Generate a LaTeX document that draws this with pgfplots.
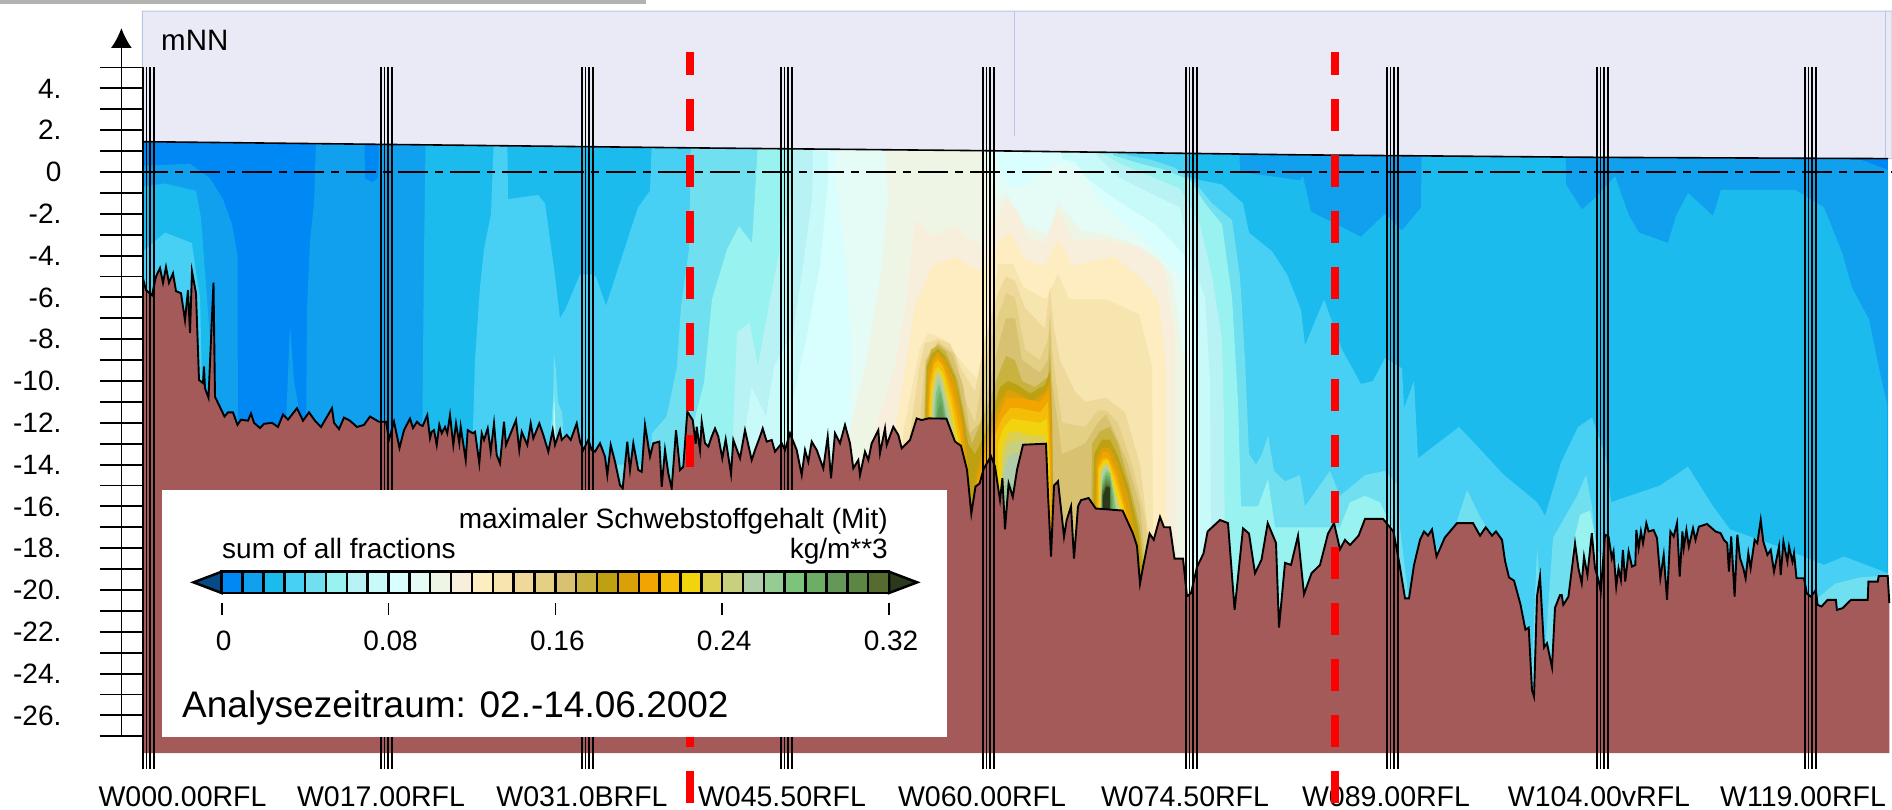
\documentclass[border=0pt]{standalone}
\usepackage{fontspec}
\setmainfont{Liberation Sans}
\usepackage{pgfplots}
\pgfplotsset{compat=1.18}
\usetikzlibrary{arrows.meta}
\definecolor{c0}{HTML}{0088F5}\definecolor{c1}{HTML}{10A0EE}\definecolor{c2}{HTML}{1CBBEE}\definecolor{c3}{HTML}{48CFF4}
\definecolor{c4}{HTML}{70DFEF}\definecolor{c5}{HTML}{98F3F0}\definecolor{c6}{HTML}{B8F2F4}\definecolor{c7}{HTML}{C8FAFA}
\definecolor{c8}{HTML}{D8FFFD}\definecolor{c9}{HTML}{E4FBF6}\definecolor{c10}{HTML}{EFF5E5}\definecolor{c11}{HTML}{F8EEDC}
\definecolor{c12}{HTML}{FDEDC0}\definecolor{c13}{HTML}{F7E5B0}\definecolor{c14}{HTML}{EFD99A}\definecolor{c15}{HTML}{E3D085}
\definecolor{c16}{HTML}{D8C272}\definecolor{c17}{HTML}{C9B340}\definecolor{c18}{HTML}{BFA010}\definecolor{c19}{HTML}{DAA008}
\definecolor{c20}{HTML}{F2A500}\definecolor{c21}{HTML}{F4BE08}\definecolor{c22}{HTML}{F2D40E}\definecolor{c23}{HTML}{DDD050}
\definecolor{c24}{HTML}{C8D080}\definecolor{c25}{HTML}{B0CCA8}\definecolor{c26}{HTML}{94CC94}\definecolor{c27}{HTML}{7CC47C}
\definecolor{c28}{HTML}{6CAF64}\definecolor{c29}{HTML}{649858}\definecolor{c30}{HTML}{5C8644}\definecolor{c31}{HTML}{566B30}
\definecolor{cL}{HTML}{064B85}\definecolor{cR}{HTML}{2C3A1C}
\definecolor{bed}{HTML}{A55A5A}\definecolor{panel}{HTML}{EAEAF6}\definecolor{edge}{HTML}{B8C6E2}
\newcommand\pp[2]{(#1pt,{809pt-#2pt})}
\newcommand\lev[2]{\addplot[fill=c#1,draw=none] coordinates {#2};}
\newcommand\swatch[3]{\addplot[fill=c#1,draw=black,line width=2.5pt] coordinates {(#2,0)(#3,0)(#3,1)(#2,1)} -- cycle;}
\newcommand\drawbed[1]{\addplot[fill=bed,draw=none] coordinates {(143,-27.8)#1(1889.3,-27.8)};
  \addplot[black,line width=1.9pt] coordinates {#1};}
\begin{document}
\begin{tikzpicture}
\path[use as bounding box] (0pt,0pt) rectangle (1892pt,809pt);
\fill[black!30] \pp{0}{0} rectangle \pp{646}{4};
\begin{axis}[
  at={(121.4pt,72.7pt)},anchor=south west,scale only axis,
  width=1770.6pt,height=708.3pt,
  xmin=121.4,xmax=1892,ymin=-27,ymax=6.89,clip=false,
  axis y line=left,axis x line=bottom,
  every outer x axis line/.append style={-,draw=none},
  every outer y axis line/.append style={-{Latex[length=20pt,width=21pt]},line width=1.7pt},
  tick align=center,major tick length=43pt,minor tick length=43pt,
  ytick={-26,-24,...,4},minor ytick={-27,-25,...,5},
  yticklabels={-26.,-24.,-22.,-20.,-18.,-16.,-14.,-12.,-10.,-8.,-6.,-4.,-2.,0,2.,4.},
  y tick style={line width=1.9pt,black},
  minor y tick style={line width=1.9pt,black},
  yticklabel style={font=\fontsize{28}{28}\selectfont,anchor=east,xshift=-35pt},
  xtick={182.5,381,582,782,982,1185,1386,1599,1803},
  xticklabels={W000.00RFL,W017.00RFL,W031.0BRFL,W045.50RFL,W060.00RFL,W074.50RFL,W089.00RFL,W104.00vRFL,W119.00RFL},
  x tick style={draw=none},
  xticklabel style={font=\fontsize{28.5}{28.5}\selectfont,yshift=-25pt},
]
% base water colour
\lev{0}{(143,-27)(143,3)(1888,3)(1888,-27)}
% concentration classes, each: upper limit of the class against station
\lev{1}{(143,-27)(143,.3)(190,.4)(210,-.3)(223,-1.3)(232,-2.5)(237.5,-4)(238,-14)(283,-14)(286,-12)(290,-7.3)(294,-10)(303,-12.5)(306,-13)(307,-6.5)(310,-3.3)(314,-1.5)(317,3)(364,3)(365,-.3)(372,-.5)(378,-.3)(380,3)(1858,3)(1860,.6)(1888,.1)(1888,-27)}
\lev{2}{(143,-27)(143,-.7)(165,-.55)(196,-.9)(201,-2.2)(206,-5.4)(210,-8)(212,-14)(422,-14)(424,-4)(426,3)(1238,3)(1240,0)(1300,-.4)(1303,-.2)(1311,-1.9)(1361,-3.1)(1385,-2)(1402,-2.8)(1421,-1.7)(1422,3)(1565,3)(1566,-.6)(1582,-1.8)(1596,-1.2)(1615,-.2)(1629,-2.1)(1639,-2.9)(1668,-3.4)(1676,-2.1)(1688,-1)(1713,-2.1)(1721,-.85)(1795,-.85)(1824,-1.7)(1842,-3.85)(1852,-5.55)(1869,-7.05)(1879,-9.4)(1887,-11.1)(1888,-27)}
\lev{3}{(143,-27)(143,-3.8)(165,-2.9)(192,-3.4)(196,-4.8)(200,-6)(204,-14)(472,-14)(475,-9)(480,-5.5)(484,-3.7)(491,-2)(495,3)(507,3)(508,-1.3)(538,-1.1)(545,-1.5)(554,-4.6)(560,-7)(565,-6.6)(580,-4.9)(592,-4.9)(596,-5)(606,-6.4)(625,-3.6)(638,-1.7)(650,-.9)(653,3)(1185,3)(1186,-.2)(1201,-.4)(1222,-.6)(1243,-1.5)(1249,-2.9)(1272,-3.8)(1287,-4.9)(1301,-6.6)(1305,-8.3)(1324,-6.1)(1342,-8.5)(1361,-10.15)(1373,-10)(1385,-8.9)(1402,-9.4)(1404,-11.3)(1414,-10)(1418,-13.7)(1459,-12.2)(1471,-12.8)(1504,-14.5)(1537,-15.8)(1545,-16.45)(1561,-13.9)(1578,-12.2)(1592,-11.75)(1606,-13.7)(1611,-15.8)(1660,-15)(1688,-14.1)(1713,-16)(1730,-17.1)(1783,-18)(1824,-18.8)(1844,-18.4)(1888,-19.2)(1888,-27)}
\lev{4}{(540,-27)(548,-14)(553,-11)(554,-8.7)(556,-9.5)(558,-11)(562,-11.5)(566,-14)(650,-14)(652,-12.5)(666.6,-11.7)(677,-9.3)(681,-6.4)(689,-3.7)(691.5,3)(1125,3)(1127,.8)(1150,.6)(1175,.2)(1195,-.5)(1212,-1.5)(1232,-2.3)(1240,-5)(1245,-9)(1249,-13.5)(1256,-14)(1262,-13.5)(1268,-12.6)(1274,-14.3)(1285,-14.8)(1300,-14.5)(1305,-16)(1330,-14.3)(1340,-15.5)(1365,-14.5)(1385,-14.3)(1398,-15)(1400,-17)(1410,-21)(1420,-19)(1455,-17)(1467,-15.2)(1480,-16.5)(1500,-18)(1515,-21)(1530,-26)(1537,-18)(1545,-23)(1553,-17.5)(1565,-16.5)(1577,-15.5)(1586,-14.5)(1592,-16)(1596,-18)(1604,-18.5)(1800,-21)(1820,-20.3)(1835,-19.7)(1860,-19.4)(1888,-19.3)(1888,-27)}
\lev{5}{(550,-27)(551,-14)(554,-10.5)(557,-14)(558,-27)}
\lev{5}{(689,-27)(691,-12.5)(704,-10.1)(712,-6.1)(727,-3.7)(739,-2.6)(752,-3.4)(760,3)(1112,3)(1113,.8)(1140,.4)(1165,.1)(1190,-.4)(1205,-1.5)(1222,-2.5)(1232,-6)(1238,-11)(1241,-16)(1258,-16)(1268,-14.7)(1275,-17)(1340,-17)(1350,-15.8)(1365,-15.5)(1380,-15.8)(1392,-17)(1400,-27)(1565,-27)(1572,-18)(1580,-16.4)(1590,-16.2)(1597,-18)(1604,-27)}
\lev{6}{(732,-27)(733,-12.5)(737,-7.7)(749.5,-7.2)(758,-9.3)(770,-6.1)(783,-2.9)(793,-.5)(793,3)(1100,3)(1102,.9)(1120,.4)(1150,-.2)(1180,-.8)(1200,-2.5)(1212,-5)(1222,-8)(1224,-12)(1226,-27)}
\lev{7}{(552,-27)(553,-14)(554.5,-11)(556,-14)(557,-27)}
\lev{7}{(744,-27)(745,-12.5)(751.6,-10.3)(766,-11.7)(774,-9.3)(793,-7.7)(803,-4.5)(812,-1.3)(814,3)(1090,3)(1092,1)(1105,.4)(1120,-.3)(1150,-1)(1180,-1.7)(1190,-4)(1205,-6)(1210,-10)(1212,-27)}
\lev{8}{(790,-27)(791,-12.5)(793,-10.9)(807.5,-7.7)(820,-4.5)(828,-.5)(828,3)(1055,3)(1062,.6)(1075,.5)(1085,-.2)(1100,-.8)(1125,-1.6)(1155,-2.5)(1185,-4)(1195,-6)(1199,-8)(1201,-27)}
\lev{9}{(849,-27)(850,-12.5)(851,-8)(845,-4)(836,-.5)(834,3)(985,3)(1000,0)(1012,-.8)(1030,-.5)(1055,.5)(1075,.3)(1088,-.5)(1100,-1.5)(1125,-2.5)(1150,-3.5)(1180,-5)(1193,-7)(1196,-27)}
\lev{10}{(848,-27)(849,-12.5)(865.6,-9.3)(882,-4.5)(888,-1.3)(884,3)(984,3)(984.5,.7)(998,-1.34)(1006.5,-1)(1023,-2.5)(1048,-3)(1058,-1.5)(1081,-2.8)(1106,-3)(1127,-3.3)(1156,-4.05)(1172,-5)(1185,-9.3)(1187,-27)}
\lev{11}{(874,-27)(874,-12.5)(895,-9.3)(907,-6.1)(915,-2.3)(923.6,-2.6)(932,-3.1)(957,-2.6)(969,-3.25)(982,-3.4)(998,-2.1)(1006.5,-1.35)(1019,-2)(1027,-3.1)(1044,-3.4)(1058,-1.85)(1073,-3.25)(1106,-3.25)(1139,-3.6)(1164,-4.5)(1174.5,-7.7)(1176.5,-27)}
\lev{12}{(895,-27)(895,-12.5)(915,-6.4)(932,-4.5)(955,-4.05)(969,-4.5)(982,-4.7)(1000,-3.25)(1010.7,-2.9)(1025,-4.2)(1044,-4.5)(1058,-3.25)(1073,-4.5)(1114,-4.05)(1139,-5)(1158,-6.1)(1166,-9.3)(1166,-27)}
\lev{13}{(903,-27)(903,-12.5)(919.5,-8.5)(928,-7.7)(944,-8)(965,-9.3)(982,-10.1)(998,-4.4)(1013,-4.4)(1023,-5.5)(1046,-6.1)(1058,-4.85)(1069,-6.1)(1106,-6.1)(1139,-6.8)(1152,-9.3)(1154,-27)}
\lev{14}{(910,-27)(910,-12.5)(919.5,-9.3)(925,-8.2)(938,-8)(950,-8.2)(962,-9.5)(975,-10.5)(985,-8)(998,-5.8)(1006,-5)(1015,-5.2)(1025,-6.5)(1045,-7.5)(1050,-5.5)(1054,-7.5)(1060,-9)(1075,-10.5)(1085,-11)(1106,-10.8)(1125,-11.5)(1140,-14)(1150,-18)(1151,-27)}
\lev{15}{(919,-27)(919,-12.5)(925,-9)(938,-8.1)(955,-8.7)(966,-11)(975,-12)(985,-9)(998,-6.9)(1006,-5.8)(1015,-6)(1025,-8.5)(1040,-9)(1048,-8)(1050,-6.6)(1053,-9)(1062,-12)(1085,-12.2)(1098,-11.4)(1106,-11.4)(1118,-12)(1132,-14)(1145,-16.5)(1152,-20)(1152,-27)}
\lev{16}{(923,-27)(923,-12.5)(926,-9)(938,-8.2)(952,-8.7)(963,-10.2)(970,-12.5)(980,-12)(990,-10)(1000,-8)(1006,-7)(1015,-7)(1022,-9)(1040,-9.6)(1048,-9)(1050,-7)(1052,-10)(1062,-13.5)(1085,-13)(1098,-12)(1106,-11.6)(1115,-12.5)(1128,-14)(1140,-16)(1148,-20)(1148,-27)}
\lev{17}{(924,-27)(924,-12.5)(926,-9.3)(931,-8.5)(938,-8.3)(946,-8.6)(958,-10)(966,-12)(972,-13)(985,-11.5)(1000,-9.5)(1006,-8.8)(1015,-9)(1022,-10)(1035,-10.3)(1048,-9.8)(1050,-8.5)(1052,-11)(1056,-27)(1088,-27)(1092,-13)(1100,-12.4)(1110,-12.2)(1118,-13)(1130,-15)(1140,-17)(1146,-20)(1146,-27)}
\lev{18}{(925,-27)(925,-12.5)(927,-9.3)(932,-8.7)(938,-8.45)(945,-8.8)(955,-9.8)(963,-11.5)(968,-13)(975,-13.5)(985,-12.5)(1000,-10.3)(1008,-10)(1018,-10.2)(1030,-10.6)(1045,-10.2)(1050,-9.5)(1052,-12)(1055,-27)(1090,-27)(1094,-13.5)(1102,-12.8)(1110,-12.8)(1118,-13.6)(1128,-15)(1138,-17)(1145,-20)(1145,-27)}
\lev{19}{(926,-27)(926,-12.5)(928,-9.5)(933,-8.85)(938,-8.6)(945,-9)(955,-10)(962,-11.8)(967,-13.5)(972,-16.5)(976,-14.5)(985,-13)(1000,-11)(1008,-10.4)(1018,-10.6)(1032,-11)(1045,-10.5)(1050,-10)(1052,-13)(1054,-27)(1092,-27)(1096,-13.8)(1102,-13.2)(1110,-13.2)(1118,-14)(1128,-15.5)(1136,-17.5)(1142,-20)(1142,-27)}
\lev{20}{(927,-27)(927,-12.5)(929,-10)(933.5,-9)(938,-8.8)(944,-9.2)(953,-10.4)(961,-12)(966,-14)(971,-16.5)(976,-15)(985,-13.5)(1000,-11.5)(1006,-10.8)(1020,-10.8)(1040,-11)(1049,-10.4)(1051,-14)(1053,-27)(1093,-27)(1097,-14)(1103,-13.4)(1108,-13.4)(1117,-14.4)(1126,-16)(1134,-17.5)(1140,-20)(1140,-27)}
\lev{21}{(928,-27)(928,-12.5)(930,-10.2)(934,-9.2)(938,-9)(943,-9.3)(952,-10.7)(960,-12.5)(965,-14.5)(968,-16)(970,-27)(993,-27)(995,-12.6)(1002,-11.8)(1010,-11.3)(1020,-11.3)(1040,-11.5)(1048,-11)(1050,-14)(1052,-27)(1094,-27)(1098,-14.2)(1103,-13.7)(1108,-13.7)(1116,-14.6)(1124,-16)(1132,-17.5)(1138,-20)(1138,-27)}
\lev{22}{(929,-27)(929,-12.5)(931,-10.4)(935,-9.5)(938,-9.3)(943,-9.6)(951,-11)(959,-13)(964,-15)(967,-27)(996,-27)(998,-13)(1004,-12.2)(1012,-11.8)(1025,-11.9)(1040,-12)(1047,-11.8)(1049,-14)(1050,-27)(1095,-27)(1099,-14.2)(1104,-13.8)(1108,-13.8)(1115,-14.8)(1123,-16)(1130,-17.5)(1136,-20)(1136,-27)}
\lev{23}{(930,-27)(930,-12.5)(932,-10.5)(935.5,-9.6)(938,-9.45)(943,-9.8)(950,-11.2)(957,-13)(962,-15)(965,-27)(1000,-27)(1002,-13.2)(1008,-12.5)(1016,-12.4)(1030,-12.6)(1045,-12.6)(1048,-27)(1096,-27)(1100,-14.3)(1104,-13.95)(1108,-13.95)(1114,-15)(1121,-16.2)(1128,-17.5)(1134,-20)(1134,-27)}
\lev{24}{(931,-27)(931,-12.5)(933,-10.6)(936,-9.75)(938,-9.6)(942,-10)(949,-11.4)(956,-13)(960,-15)(963,-27)(1000,-27)(1003,-13.8)(1009,-13)(1020,-12.8)(1030,-13)(1045,-13)(1047,-27)(1097,-27)(1101,-14.4)(1105,-14.05)(1108,-14.05)(1113,-15.1)(1120,-16.3)(1126,-17.5)(1132,-20)(1132,-27)}
\lev{25}{(932,-27)(932,-12.5)(934,-10.7)(937,-9.9)(939,-9.8)(942,-10.2)(948,-11.6)(955,-13.2)(958,-15)(960,-27)(1000,-27)(1003,-14.5)(1009,-13.6)(1018,-13.4)(1022,-27)(1098,-27)(1102,-14.5)(1105,-14.15)(1108,-14.15)(1112,-15.2)(1118,-16.3)(1124,-17.5)(1130,-20)(1130,-27)}
\lev{26}{(933,-27)(933,-12.5)(935,-10.9)(938,-10)(941,-10.3)(947,-11.7)(953,-13.2)(956,-15)(958,-27)(1003,-27)(1005,-15)(1009,-14.8)(1013,-15)(1015,-27)(1098,-27)(1103,-14.6)(1106,-14.25)(1109,-14.3)(1114,-15.5)(1120,-17.5)(1127,-20)(1127,-27)}
\lev{27}{(934,-27)(934,-12.5)(936,-10.6)(939,-10.2)(942,-10.6)(946,-11.8)(951,-13.5)(954,-27)(1099,-27)(1102,-14.8)(1106,-14.35)(1110,-14.4)(1114,-15.5)(1118,-17)(1122,-20)(1122,-27)}
\lev{28}{(935,-27)(935,-12.5)(937,-11)(940,-10.5)(943,-11)(946,-12)(950,-14)(952,-27)(1100,-27)(1102,-15)(1106,-14.5)(1110,-14.6)(1113,-15.6)(1116,-20)(1116,-27)}
\lev{29}{(936,-27)(936,-12.5)(938,-11.4)(941,-11)(944,-11.8)(947,-12.6)(950,-27)(1100,-27)(1102,-15.2)(1106,-14.65)(1110,-14.75)(1112,-15.8)(1114,-27)}
\lev{30}{(938,-27)(938,-12.5)(940,-11.7)(943,-12.5)(946,-27)(1101,-27)(1102,-15.3)(1106,-14.8)(1110,-14.9)(1112,-27)}
\lev{31}{(1101,-27)(1102,-15.4)(1106,-14.95)(1110,-15)(1112,-27)}
\addplot[fill=cR,draw=none] coordinates {(1102,-27)(1103,-15.5)(1106,-15.05)(1110,-15.1)(1111,-27)};
% sky panel above the water level
\addplot[fill=panel,draw=edge,line width=1pt] coordinates {(142.4,1.45)(142.4,7.7)(1892,7.7)(1892,.64)(1888,.64)(1600,.7)(1300,.82)(983,1.02)(700,1.15)(142.4,1.45)};
\addplot[draw=edge,line width=1pt] coordinates {(1014,7.7)(1014,1.72)};
\addplot[draw=edge,line width=1pt] coordinates {(1885,7.7)(1885,.64)};
% water level
\addplot[black,line width=1.6pt] coordinates {(143,1.45)(700,1.15)(983,1.02)(1300,.82)(1600,.7)(1888,.64)};
% river bed
\drawbed{(143,-5.1)(146,-5.65)(152,-5.9)(156,-5)(160,-4.6)(163,-5.3)(166,-4.55)(169,-5.3)(173,-4.85)(176,-5.7)(181,-5.8)(185,-7.1)(188,-5.65)(190,-7.7)(192,-4.75)(196,-5.8)(199,-9.95)(203,-10.1)(204,-9.3)(205,-10.35)(208.5,-10.8)(211,-8)(213.5,-5.3)(215,-10.75)(219,-11.15)(224.5,-11.7)(228,-11.5)(233,-11.5)(237.5,-12.1)(241,-11.85)(248,-11.9)(251,-11.55)(254,-12)(260,-12.25)(264,-12.05)(272,-12)(278,-12.2)(283,-11.6)(288,-11.85)(297,-11.3)(303,-11.9)(309,-11.5)(315,-11.9)(321,-12.2)(332,-11.3)(334,-12)(339,-12.3)(344,-11.75)(350,-11.9)(357,-12.2)(364,-12.1)(370,-11.7)(379,-11.95)(386,-11.95)(389,-12.8)(394,-11.95)(399.5,-13.2)(404,-12.35)(410,-11.8)(413,-12.25)(417,-11.95)(420,-12.1)(422.7,-12.15)(427.3,-11.63)(430,-12.74)(431.7,-12.43)(434,-12.35)(436.7,-13.06)(439.3,-12.1)(441.7,-12.5)(445,-12.2)(447.3,-12.5)(450,-11.63)(453.3,-13.06)(456,-12.03)(459.3,-12.98)(460.7,-12.19)(465.7,-13.78)(467.7,-12.35)(472.7,-12.5)(475,-12.43)(479.3,-13.94)(481.7,-12.5)(484,-12.82)(487.7,-12.27)(490.7,-13.38)(494,-12.03)(496.7,-13.54)(500,-13.94)(504,-11.95)(506,-13.06)(510,-12.58)(516,-11.87)(519.3,-13.3)(521.7,-12.43)(527.3,-13.06)(530.7,-12.03)(533.3,-12.74)(539.3,-12.03)(543.3,-12.58)(548.3,-13.38)(552.7,-12.35)(555,-13.06)(560,-12.35)(561.7,-12.82)(566.7,-12.58)(570.7,-12.82)(576.7,-12.03)(580,-12.9)(583.3,-13.3)(588.3,-12.82)(591.7,-13.3)(595,-13.38)(600,-12.98)(605,-13.62)(607.3,-14.5)(610.7,-13.06)(615,-13.86)(620,-14.98)(622.7,-15.14)(627.3,-12.9)(630,-14.26)(633.3,-12.98)(638.3,-14.26)(641.7,-14.34)(645,-12.1)(650,-13.62)(653.3,-12.98)(659.3,-12.9)(661.7,-15.06)(665,-13.3)(668.3,-14.42)(671.7,-15.14)(676,-12.35)(680,-14.26)(683.3,-14.1)(687.3,-11.47)(692.7,-11.87)(695.7,-13)(696.7,-12.19)(700,-13.3)(701.7,-11.95)(705,-12.98)(708.3,-13.14)(711.7,-12.66)(715,-12.27)(718.3,-12.66)(722.3,-13.7)(725.7,-12.79)(731,-14.45)(733.3,-12.82)(740,-13.7)(745,-12.35)(751.7,-13.78)(755,-13.3)(760,-12.66)(762.7,-12.27)(766.7,-12.9)(771.7,-12.82)(775,-13.38)(781.7,-12.98)(785,-13.3)(790,-12.5)(796.7,-13.3)(801.7,-14.5)(805,-13.3)(808.3,-13.86)(811.7,-12.9)(816.7,-13.3)(823.3,-14.18)(827.7,-12.66)(831,-14.66)(835,-12.5)(840,-12.98)(845,-12.1)(850,-12.98)(853.3,-14.18)(858.3,-13.78)(860,-14.5)(865,-13.38)(868.3,-13.78)(871.7,-12.98)(878.3,-12.35)(880,-13.46)(885,-12.27)(886.7,-13.06)(893.3,-12.19)(898.3,-12.58)(901.7,-13.22)(910,-12.82)(916.7,-11.79)(921.7,-11.87)(928.3,-11.79)(946.4,-11.8)(955,-12.9)(961,-13.1)(967,-14.25)(971.3,-16.35)(975.5,-15.05)(979.6,-14.9)(983.7,-14.2)(991,-13.6)(995,-14.1)(1000,-15.7)(1002.4,-14.65)(1005,-17.1)(1008.6,-14.9)(1012.8,-15.55)(1017,-14.25)(1023,-13.05)(1046,-13)(1048,-15.4)(1051,-18.4)(1054,-15)(1058,-14.8)(1064,-17.45)(1066.7,-16.65)(1071,-16)(1074,-18.5)(1078,-16)(1081,-15.7)(1088.6,-15.6)(1095.7,-16.1)(1122.6,-16.2)(1133,-17.3)(1137,-17.9)(1140,-19.7)(1143,-18.9)(1149.6,-17.3)(1153.7,-17.6)(1160,-16.5)(1164,-17)(1170,-17)(1174.5,-18.5)(1183,-18.5)(1187,-20.3)(1191,-20.15)(1197,-18.9)(1203.5,-18.25)(1207.6,-17.2)(1220,-16.65)(1228,-16.8)(1234.6,-20.95)(1243,-17.05)(1249,-17.3)(1255,-19.2)(1261.5,-18.55)(1267.7,-16.8)(1276,-17.75)(1279,-21.8)(1285,-18.7)(1291,-18.8)(1298,-17.4)(1304,-20.2)(1311.5,-19.2)(1320,-18.8)(1328,-17.3)(1334,-16.8)(1340,-18.05)(1345,-17.6)(1350,-17.85)(1358.6,-17.4)(1365,-16.6)(1383,-16.6)(1393.4,-17.2)(1399.6,-18.8)(1405,-20.4)(1409,-20.4)(1414,-18.8)(1420,-17.6)(1424,-17.2)(1428,-17.4)(1432,-17.1)(1436.5,-18.4)(1444.7,-17.5)(1457,-16.8)(1473,-16.8)(1480,-17.4)(1485.7,-17)(1492,-17.4)(1496,-17.2)(1502,-17.6)(1505,-18.6)(1509,-19.4)(1514,-19.55)(1520.5,-20.7)(1525.4,-21.9)(1528.7,-21.8)(1532,-24.8)(1534,-25.1)(1537,-20.3)(1540,-19.35)(1544,-22.75)(1547,-22.55)(1552,-23.7)(1555,-20.85)(1560,-20.24)(1561.7,-20.24)(1563.3,-20.71)(1568.4,-20.32)(1570.7,-19.44)(1575,-17.76)(1578.4,-18.96)(1581.7,-19.68)(1584,-18.4)(1587.4,-19.28)(1591.8,-17.28)(1595,-18.96)(1598.5,-19.52)(1600.8,-20.08)(1605,-17.36)(1608.5,-17.44)(1611.8,-18.48)(1613.5,-18.16)(1616.2,-19.84)(1618.5,-18.96)(1620.9,-19.52)(1622.9,-18.08)(1625.2,-19.6)(1628.6,-18.16)(1632,-18.88)(1635.3,-18.8)(1636.3,-17.13)(1638.6,-18)(1640.9,-17.2)(1643,-17.76)(1646.3,-16.8)(1648.6,-17.2)(1653.6,-17.13)(1657,-17.52)(1660.3,-19.44)(1663.7,-18.32)(1667,-20.47)(1670.4,-17.2)(1673.7,-17.44)(1677,-16.8)(1679.7,-19.36)(1682.4,-17.2)(1683.7,-18)(1686.4,-17.13)(1688.8,-17.92)(1693,-17.05)(1695.5,-17.6)(1698.8,-16.97)(1707,-16.84)(1715.5,-17.2)(1720.5,-17.28)(1723.9,-17.6)(1727.2,-17.76)(1728.9,-19.12)(1731.2,-17.44)(1734.6,-20.32)(1737.3,-17.36)(1740,-18.48)(1743.3,-18.96)(1745.6,-19.44)(1748.3,-18.24)(1750.6,-18.96)(1754.6,-17.6)(1757.3,-17.76)(1760.7,-16.65)(1763.3,-17.68)(1767.4,-18.32)(1770.7,-18.08)(1774,-19.12)(1779,-17.92)(1780.7,-19.28)(1783.4,-17.68)(1787.4,-18.64)(1789,-17.92)(1792.4,-18.64)(1794,-18.24)(1796.5,-19.44)(1804,-19.44)(1806.8,-20.16)(1810.8,-20.32)(1815.9,-20)(1817.5,-20.71)(1821.5,-20.79)(1827.6,-20.47)(1835.9,-20.47)(1836.9,-20.95)(1842.6,-20.87)(1851,-20.47)(1867.7,-20.47)(1868.4,-19.6)(1877.7,-19.6)(1878.7,-19.33)(1887.7,-19.33)(1889.3,-20.63)}
% mNN zero line
\addplot[black,line width=1.5pt,dash pattern=on 30pt off 7pt on 8pt off 7pt] coordinates {(138,0)(1892,0)};
% cross-section bundles
\pgfplotsinvokeforeach{143,146.6,150.2,153.8,381,384.6,388.2,391.8,582,585.6,589.2,592.8,781,784.6,788.2,791.8,983,986.6,990.2,993.8,1186,1189.6,1193.2,1196.8,1387,1390.6,1394.2,1397.8,1597,1600.6,1604.2,1607.8,1805,1808.6,1812.2,1815.8}{
  \addplot[black,line width=1.5pt] coordinates {(#1,5)(#1,-28.55)};
}
\end{axis}
% legend box
\fill[white] \pp{162}{490} rectangle \pp{947}{737};
\node[anchor=base east,inner sep=0pt,font=\fontsize{28}{28}\selectfont] at \pp{888}{529} {maximaler Schwebstoffgehalt (Mit)};
\node[anchor=base east,inner sep=0pt,font=\fontsize{28}{28}\selectfont] at \pp{888}{558} {kg/m**3};
\node[anchor=base west,inner sep=0pt,font=\fontsize{28}{28}\selectfont] at \pp{222}{558} {sum of all fractions};
\node[anchor=base west,inner sep=0pt,font=\fontsize{37}{37}\selectfont] at \pp{182}{717} {Analysezeitraum: 02.-14.06.2002};
\node[anchor=base west,inner sep=0pt,font=\fontsize{29.5}{29.5}\selectfont] at \pp{161}{51} {mNN};
% red marks over everything
\begin{axis}[at={(121.4pt,72.7pt)},anchor=south west,scale only axis,width=1770.6pt,height=708.3pt,
  xmin=121.4,xmax=1892,ymin=-27,ymax=6.89,clip=false,hide axis]
\addplot[red,line width=7.6pt,dash pattern=on 32pt off 24pt,dash phase=9pt] coordinates {(690,5.742)(690,-14.115)};
\addplot[red,line width=7.6pt] coordinates {(690,-27.03)(690,-27.51)};
\addplot[red,line width=7.6pt] coordinates {(690,-28.66)(690,-30.19)};
\addplot[red,line width=7.6pt,dash pattern=on 32pt off 24pt,dash phase=9pt] coordinates {(1335,5.742)(1335,-30.19)};
\end{axis}
% colour bar
\begin{axis}[at={(221.7pt,216pt)},anchor=south west,scale only axis,width=667.3pt,height=21.3pt,
  xmin=0,xmax=.32,ymin=0,ymax=1,clip=false,
  axis x line=bottom,axis y line=none,
  every outer x axis line/.append style={-,draw=none},
  xtick={0,.08,.16,.24,.32},xticklabels={0,0.08,0.16,0.24,0.32},
  x tick style={draw=none},
  xticklabel style={font=\fontsize{28}{28}\selectfont,yshift=-32pt,xshift=2pt},
]
\addplot[fill=cL,draw=black,line width=2.5pt] coordinates {(0,0)(-.0135,.5)(0,1)} -- cycle;
\addplot[fill=cR,draw=black,line width=2.5pt] coordinates {(.32,0)(.3335,.5)(.32,1)} -- cycle;
\swatch{0}{0}{.01}\swatch{1}{.01}{.02}\swatch{2}{.02}{.03}\swatch{3}{.03}{.04}
\swatch{4}{.04}{.05}\swatch{5}{.05}{.06}\swatch{6}{.06}{.07}\swatch{7}{.07}{.08}
\swatch{8}{.08}{.09}\swatch{9}{.09}{.10}\swatch{10}{.10}{.11}\swatch{11}{.11}{.12}
\swatch{12}{.12}{.13}\swatch{13}{.13}{.14}\swatch{14}{.14}{.15}\swatch{15}{.15}{.16}
\swatch{16}{.16}{.17}\swatch{17}{.17}{.18}\swatch{18}{.18}{.19}\swatch{19}{.19}{.20}
\swatch{20}{.20}{.21}\swatch{21}{.21}{.22}\swatch{22}{.22}{.23}\swatch{23}{.23}{.24}
\swatch{24}{.24}{.25}\swatch{25}{.25}{.26}\swatch{26}{.26}{.27}\swatch{27}{.27}{.28}
\swatch{28}{.28}{.29}\swatch{29}{.29}{.30}\swatch{30}{.30}{.31}\swatch{31}{.31}{.32}
\pgfplotsinvokeforeach{0,.08,.16,.24,.32}{
  \addplot[black,line width=1.6pt] coordinates {(#1,-.47)(#1,-1.03)};
}
\end{axis}
\end{tikzpicture}
\end{document}
